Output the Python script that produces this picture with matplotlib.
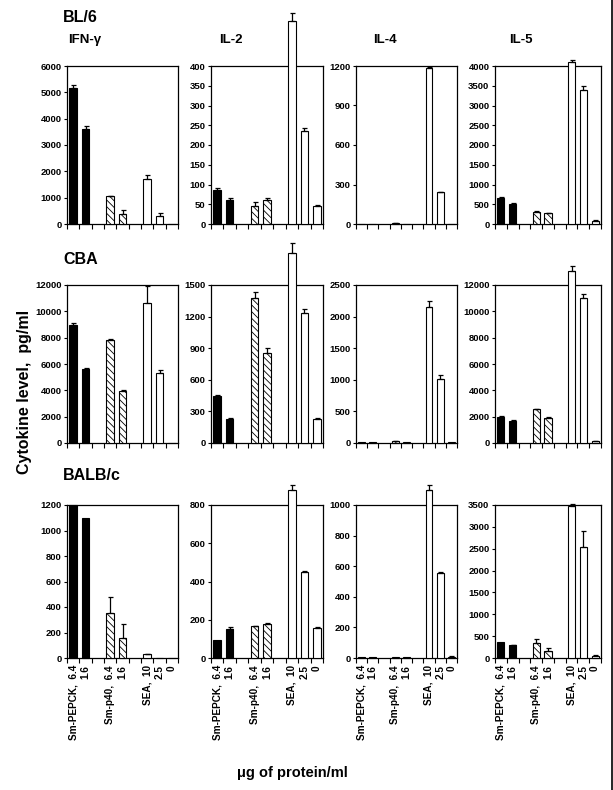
import matplotlib
matplotlib.use("Agg")
import matplotlib.pyplot as plt
from matplotlib.lines import Line2D

plt.rcParams['font.family'] = ['Liberation Sans', 'DejaVu Sans']
plt.rcParams['font.weight'] = 'bold'
plt.rcParams['hatch.linewidth'] = 0.6
plt.rcParams['hatch.color'] = 'black'

# slots on the x axis (9 slots, 7 bars)
slot_labels = ["Sm-PEPCK,  6.4", "1.6", "", "Sm-p40,  6.4", "1.6", "", "SEA,  10", "2.5", "0"]
bar_slots = [0, 1, 3, 4, 6, 7, 8]
bar_kind = ["black", "black", "hatch", "hatch", "white", "white", "white"]

strains = ["BL/6", "CBA", "BALB/c"]
cytokines = ["IFN-γ", "IL-2", "IL-4", "IL-5"]

# values (pg/ml), order = bar_slots
bl6_ifn = [5150, 3620, 1050, 370, 1720, 290, 0]
bl6_ifn_err = [120, 100, 20, 150, 140, 110, 0]
bl6_il2 = [87, 60, 46, 62, 513, 236, 46]
bl6_il2_err = [4, 6, 9, 3, 21, 8, 3]
bl6_il4 = [0, 0, 8, 2, 1188, 240, 0]
bl6_il4_err = [0, 0, 3, 0, 6, 4, 0]
bl6_il5 = [660, 500, 310, 270, 4100, 3400, 80]
bl6_il5_err = [30, 20, 10, 10, 40, 100, 10]

cba_ifn = [9000, 5600, 7850, 3950, 10600, 5350, 30]
cba_ifn_err = [120, 80, 40, 40, 1300, 200, 0]
cba_il2 = [445, 230, 1375, 855, 1800, 1230, 230]
cba_il2_err = [10, 10, 55, 45, 100, 40, 10]
cba_il4 = [10, 10, 30, 10, 2150, 1010, 10]
cba_il4_err = [0, 0, 5, 0, 90, 70, 0]
cba_il5 = [2000, 1700, 2550, 1900, 13100, 11000, 130]
cba_il5_err = [60, 30, 60, 50, 350, 300, 20]

balb_ifn = [1200, 1100, 355, 160, 30, 3, 0]
balb_ifn_err = [0, 0, 120, 105, 5, 0, 0]
balb_il2 = [95, 152, 165, 180, 880, 450, 155]
balb_il2_err = [0, 8, 3, 3, 25, 5, 5]
balb_il4 = [5, 5, 5, 5, 1100, 555, 8]
balb_il4_err = [0, 0, 0, 0, 30, 8, 3]
balb_il5 = [360, 290, 345, 165, 3470, 2540, 50]
balb_il5_err = [0, 15, 90, 70, 60, 370, 10]

values = [[bl6_ifn, bl6_il2, bl6_il4, bl6_il5],
          [cba_ifn, cba_il2, cba_il4, cba_il5],
          [balb_ifn, balb_il2, balb_il4, balb_il5]]
errors = [[bl6_ifn_err, bl6_il2_err, bl6_il4_err, bl6_il5_err],
          [cba_ifn_err, cba_il2_err, cba_il4_err, cba_il5_err],
          [balb_ifn_err, balb_il2_err, balb_il4_err, balb_il5_err]]

# y axis: (top, step)
y_axes = [[(6000, 1000), (400, 50), (1200, 300), (4000, 500)],
          [(12000, 2000), (1500, 300), (2500, 500), (12000, 2000)],
          [(1200, 200), (800, 200), (1000, 200), (3500, 500)]]

# panel layout in pixels
W, H = 613, 790
col_left = [67, 211, 356, 495]
col_w = [111, 112, 101, 106]
row_top = [66, 285, 505]
row_bot = [224, 443, 658]

fig = plt.figure(figsize=(W / 100, H / 100), dpi=100)

for r in range(3):
    for c in range(4):
        left = col_left[c] / W
        bottom = 1 - row_bot[r] / H
        ax = fig.add_axes([left, bottom, col_w[c] / W, (row_bot[r] - row_top[r]) / H])
        vals = values[r][c]
        errs = errors[r][c]
        for x, v, e, kind in zip(bar_slots, vals, errs, bar_kind):
            if kind == "black":
                fc, hatch = "black", None
            elif kind == "hatch":
                fc, hatch = "white", "\\\\\\\\\\"
            else:
                fc, hatch = "white", None
            b = ax.bar(x, v, width=0.6, color=fc, edgecolor="black", linewidth=0.8,
                       hatch=hatch, zorder=3)
            for p in b:
                p.set_clip_on(False)
            if e > 0:
                eb = ax.errorbar(x, v, yerr=[[0], [e]], fmt="none", ecolor="black",
                                 elinewidth=0.9, capsize=1.8, capthick=0.9, zorder=4)
                for a in list(eb.lines[1]) + list(eb.lines[2]):
                    a.set_clip_on(False)
        top, step = y_axes[r][c]
        ax.set_ylim(0, top)
        ax.set_yticks(range(0, top + 1, step))
        ax.set_xlim(-0.5, 8.5)
        # tick marks at slot boundaries, labels at slot centres
        ax.set_xticks([i - 0.5 for i in range(10)])
        ax.set_xticklabels([])
        ax.set_xticks(range(9), minor=True)
        if r == 2:
            ax.set_xticklabels(slot_labels, minor=True, rotation=90, fontsize=7.2,
                               va="top", ha="center")
        ax.tick_params(axis="x", which="minor", length=0, pad=5)
        ax.tick_params(axis="x", which="major", length=3.5, width=0.8, direction="out")
        ax.tick_params(axis="y", length=2.5, width=0.8, labelsize=6.8, pad=1.5)
        for s in ax.spines.values():
            s.set_linewidth(0.9)

# strain labels
fig.text(63 / W, 1 - 18 / H, "BL/6", fontsize=11.5, ha="left", va="center")
fig.text(63 / W, 1 - 260 / H, "CBA", fontsize=11.5, ha="left", va="center")
fig.text(63 / W, 1 - 475 / H, "BALB/c", fontsize=11.5, ha="left", va="center")

# cytokine titles
title_x = [85, 231, 385, 521]
for name, x in zip(cytokines, title_x):
    fig.text(x / W, 1 - 40 / H, name, fontsize=9.5, ha="center", va="center")

fig.text(25 / W, 1 - 392 / H, "Cytokine level,  pg/ml", fontsize=11.5, rotation=90,
         ha="center", va="center")
fig.text(292 / W, 1 - 773 / H, "μg of protein/ml", fontsize=10.5, ha="center", va="center")

# scan border on the right edge
fig.add_artist(Line2D([611.5 / W, 611.5 / W], [0, 1], color="black", linewidth=1.2,
                      transform=fig.transFigure))

fig.savefig("out.png", dpi=100, facecolor="white")
